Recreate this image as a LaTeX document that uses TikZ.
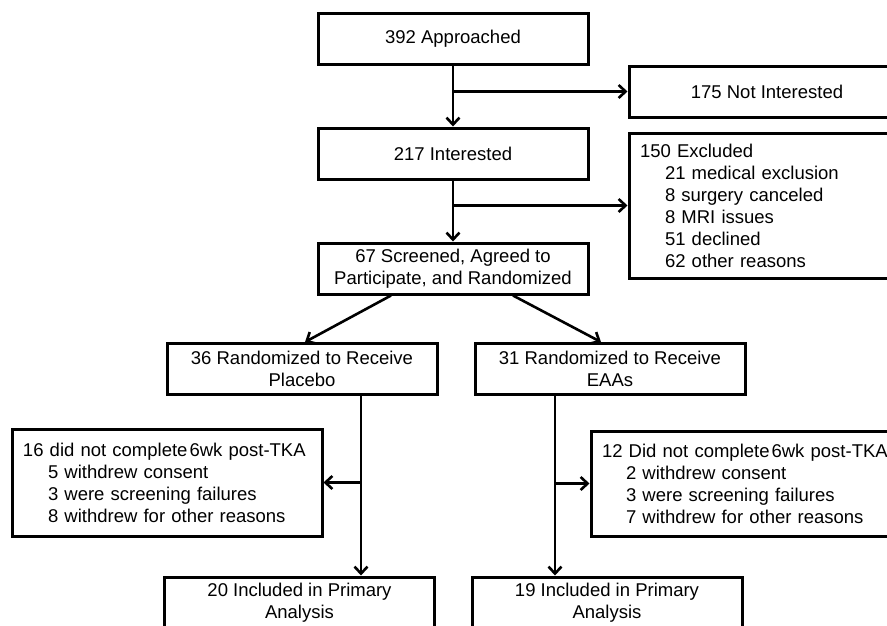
\documentclass[tikz,border=0pt]{standalone}
\usepackage{fontspec}
\setmainfont{Liberation Sans}
\usetikzlibrary{positioning,arrows.meta}

\begin{document}
\begin{tikzpicture}[
    x=1pt, y=-1pt,
    node distance=61pt,
    every node/.style={font=\fontsize{18.5}{22}\selectfont},
    box/.style={draw, line width=3pt, minimum width=270pt, minimum height=51pt, align=center, inner sep=2pt},
    sidebox/.style={draw, line width=3pt, align=left, inner xsep=11pt, inner ysep=2pt},
    arr/.style={line width=2.6pt, -{Straight Barb[length=7pt,width=13pt]}}
]
\useasboundingbox (0,0) rectangle (887,625);
\clip (0,0) rectangle (887,625);

% main column
\node[box] (approached) at (453,38.5) {392 Approached};
\node[box, below=of approached] (interested) {217 Interested};
\node[box, below=of interested] (screened) {67 Screened, Agreed to\\Participate, and Randomized};

% side boxes at the top
\node[sidebox, minimum width=276pt, minimum height=51pt, align=center] (notint) at (767,91.5) {175 Not Interested};
\node[sidebox, text width=254pt, minimum height=145pt] (excluded) at (767,205.5) {150 Excluded\\
    \hspace*{25pt}21 medical exclusion\\
    \hspace*{25pt}8 surgery canceled\\
    \hspace*{25pt}8 MRI issues\\
    \hspace*{25pt}51 declined\\
    \hspace*{25pt}62 other reasons};

% two arms
\node[box] (placebo) at (302,369) {36 Randomized to Receive\\Placebo};
\node[box, right=35pt of placebo] (eaas) {31 Randomized to Receive\\EAAs};

% drop-outs
\node[sidebox, text width=288pt, minimum height=107pt] (notc1) at (167,482.5) {16 did not complete\hspace{2pt}6wk post-TKA\\
    \hspace*{25pt}5 withdrew consent\\
    \hspace*{25pt}3 were screening failures\\
    \hspace*{25pt}8 withdrew for other reasons};
\node[sidebox, text width=302pt, minimum height=105pt] (notc2) at (753,483.5) {12 Did not complete\hspace{2pt}6wk post-TKA\\
    \hspace*{24pt}2 withdrew consent\\
    \hspace*{24pt}3 were screening failures\\
    \hspace*{24pt}7 withdrew for other reasons};

% analysed
\node[box] (incl1) at (299.5,602.5) {20 Included in Primary\\Analysis};
\node[box] (incl2) at (607,602.5) {19 Included in Primary\\Analysis};

% connectors
\draw[arr] (approached) -- (interested);
\draw[arr] (approached.south |- notint.west) -- (notint.west);
\draw[arr] (interested) -- (screened);
\draw[arr] (interested.south |- excluded.west) -- (excluded.west);
\draw[arr] ([xshift=-62pt]screened.south) -- ([xshift=3pt]placebo.north);
\draw[arr] ([xshift=60pt]screened.south) -- ([xshift=-9pt]eaas.north);
\draw[arr] ([xshift=59pt]placebo.south) -- ([xshift=59pt]placebo.south |- incl1.north);
\draw[arr] ([xshift=59pt]placebo.south |- notc1.east) -- (notc1.east);
\draw[arr] ([xshift=-55pt]eaas.south) -- ([xshift=-55pt]eaas.south |- incl2.north);
\draw[arr] ([xshift=-55pt]eaas.south |- notc2.west) -- (notc2.west);

\end{tikzpicture}
\end{document}
